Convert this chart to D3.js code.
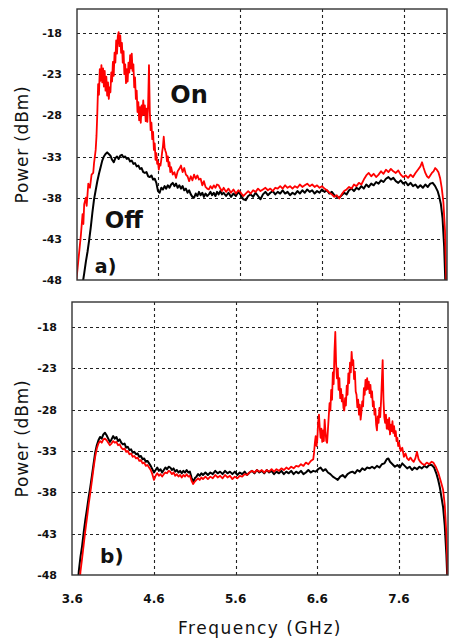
<!DOCTYPE html>
<html>
<head>
<meta charset="utf-8">
<script src="https://cdn.jsdelivr.net/npm/d3@7"></script>
<style>
  html, body { margin: 0; padding: 0; background: #fff; }
  svg { display: block; }
  text { font-family: "DejaVu Sans", Verdana, sans-serif; fill: #111; }
</style>
</head>
<body>
<div id="chart"></div>
<script>
// tick labels
const yTicks = [-18, -23, -28, -33, -38, -43, -48];
const xTicks = [3.6, 4.6, 5.6, 6.6, 7.6];
const xGrid = [4.6, 5.6, 6.6, 7.6];
const yGrid = [-18, -23, -28, -33, -38, -43];

// panel a) -- laser off (black)
const offA = [
  [3.64,-51],[3.68,-48.5],[3.70,-47.2],[3.72,-45.8],[3.74,-44.6],[3.76,-43.2],[3.78,-41.6],[3.80,-39.8],
  [3.82,-38.2],[3.84,-37.1],[3.86,-36.0],[3.88,-35.1],[3.90,-34.3],[3.92,-33.5],[3.94,-33.0],[3.96,-32.7],
  [3.98,-32.5],[4.00,-32.7],[4.02,-32.9],[4.04,-33.4],[4.06,-33.7],[4.08,-33.2],[4.10,-33.0],[4.12,-33.3],
  [4.14,-32.9],[4.16,-32.8],[4.18,-33.1],[4.20,-33.0],[4.22,-33.3],[4.24,-33.2],[4.26,-33.6],[4.28,-33.5],
  [4.30,-33.9],[4.32,-33.8],[4.34,-34.2],[4.36,-34.1],[4.38,-34.5],[4.40,-34.4],[4.42,-34.9],[4.44,-35.0],
  [4.46,-34.9],[4.48,-35.4],[4.50,-35.5],[4.52,-35.3],[4.54,-35.8],[4.56,-35.7],[4.58,-36.2],[4.60,-37.2],
  [4.62,-37.4],[4.64,-36.8],[4.66,-37.0],[4.68,-36.6],[4.70,-36.9],[4.72,-36.5],[4.74,-36.8],[4.76,-36.4],
  [4.78,-36.2],[4.80,-36.6],[4.82,-36.3],[4.84,-36.8],[4.86,-36.5],[4.88,-36.9],[4.90,-36.6],[4.92,-37.1],
  [4.94,-36.9],[4.96,-37.4],[4.98,-37.1],[5.00,-37.6],[5.02,-37.9],[5.04,-38.0],[5.06,-37.5],[5.08,-37.8],
  [5.10,-37.3],[5.12,-37.7],[5.14,-37.4],[5.16,-37.9],[5.18,-37.5],[5.20,-37.8],[5.22,-37.6],[5.24,-37.3],
  [5.26,-37.7],[5.28,-37.4],[5.30,-37.8],[5.32,-37.3],[5.34,-37.6],[5.36,-37.2],[5.38,-37.6],[5.40,-37.4],
  [5.43,-37.8],[5.46,-37.4],[5.49,-37.9],[5.52,-37.5],[5.55,-37.8],[5.58,-37.3],[5.61,-37.7],[5.64,-38.2],
  [5.67,-38.3],[5.70,-37.8],[5.73,-37.6],[5.76,-37.9],[5.79,-37.4],[5.82,-37.8],[5.85,-38.2],[5.88,-37.6],
  [5.91,-37.3],[5.94,-37.7],[5.97,-37.4],[6.00,-37.2],[6.03,-37.6],[6.06,-37.3],[6.09,-37.5],[6.12,-37.1],
  [6.15,-37.5],[6.18,-37.3],[6.21,-37.7],[6.24,-37.4],[6.27,-37.6],[6.30,-37.2],[6.33,-37.5],[6.36,-37.1],
  [6.39,-37.4],[6.42,-37.0],[6.45,-37.3],[6.48,-37.1],[6.51,-37.5],[6.54,-37.2],[6.57,-37.4],[6.60,-37.0],
  [6.63,-37.3],[6.66,-37.1],[6.69,-37.5],[6.72,-37.3],[6.75,-37.7],[6.78,-37.9],[6.81,-38.0],[6.84,-37.7],
  [6.87,-37.4],[6.90,-37.6],[6.93,-37.1],[6.96,-36.9],[6.99,-37.2],[7.02,-36.8],[7.05,-37.0],[7.08,-36.6],
  [7.11,-36.9],[7.14,-36.4],[7.17,-36.7],[7.20,-36.3],[7.23,-36.5],[7.26,-36.1],[7.29,-36.3],[7.32,-35.9],
  [7.35,-36.1],[7.38,-35.7],[7.41,-35.5],[7.44,-35.8],[7.47,-35.6],[7.50,-36.0],[7.53,-36.2],[7.56,-35.9],
  [7.59,-36.3],[7.62,-36.1],[7.65,-36.5],[7.68,-36.2],[7.71,-36.6],[7.74,-36.4],[7.77,-36.8],[7.80,-36.5],
  [7.83,-36.8],[7.86,-36.4],[7.89,-36.7],[7.92,-36.3],[7.95,-36.2],[7.98,-36.6],[8.01,-37.2],[8.03,-37.9],
  [8.05,-38.8],[8.07,-40.5],[8.09,-44.0],[8.10,-47.0],[8.11,-50.0]
];

// panel a) -- laser on (red)
const onA = [
  [3.60,-48.5],[3.62,-46.5],[3.64,-44.5],[3.66,-42.5],[3.68,-40.0],[3.69,-41.2],[3.70,-38.8],[3.72,-38.0],
  [3.73,-39.0],[3.75,-36.3],[3.77,-36.8],[3.79,-35.2],[3.81,-35.0],[3.82,-33.8],[3.84,-32.2],[3.85,-30.5],
  [3.86,-27.7],[3.87,-24.2],[3.88,-25.5],[3.89,-22.4],[3.90,-23.8],[3.91,-21.9],[3.92,-24.0],[3.93,-22.3],
  [3.94,-24.5],[3.95,-22.6],[3.96,-25.0],[3.97,-23.3],[3.98,-25.6],[3.99,-24.0],[4.00,-26.0],[4.01,-24.6],
  [4.02,-25.2],[4.03,-22.8],[4.04,-23.9],[4.05,-21.5],[4.06,-23.2],[4.07,-20.4],[4.08,-21.6],[4.09,-18.9],
  [4.10,-20.5],[4.11,-18.4],[4.12,-17.9],[4.13,-19.6],[4.14,-18.3],[4.15,-20.4],[4.16,-19.2],[4.17,-21.6],
  [4.18,-20.2],[4.19,-23.0],[4.20,-21.8],[4.21,-24.1],[4.22,-22.4],[4.23,-23.9],[4.24,-21.6],[4.25,-22.8],
  [4.26,-20.7],[4.27,-22.3],[4.28,-20.5],[4.29,-22.6],[4.30,-21.8],[4.31,-24.6],[4.32,-23.4],[4.33,-26.0],
  [4.34,-25.0],[4.35,-27.6],[4.36,-26.4],[4.37,-28.6],[4.38,-27.0],[4.39,-28.9],[4.40,-26.8],[4.41,-28.0],
  [4.42,-26.2],[4.43,-27.9],[4.44,-26.8],[4.45,-28.7],[4.46,-27.2],[4.47,-28.8],[4.48,-26.5],[4.49,-21.9],
  [4.50,-27.5],[4.51,-29.8],[4.52,-28.9],[4.53,-30.9],[4.54,-30.0],[4.55,-32.2],[4.56,-31.4],[4.57,-33.4],
  [4.58,-32.6],[4.59,-33.9],[4.60,-33.6],[4.61,-34.6],[4.62,-33.9],[4.63,-34.1],[4.64,-33.4],[4.65,-32.5],
  [4.66,-31.8],[4.67,-30.6],[4.68,-31.9],[4.69,-32.3],[4.70,-32.6],[4.71,-33.6],[4.72,-33.0],[4.73,-34.2],
  [4.74,-33.7],[4.75,-34.9],[4.76,-34.3],[4.78,-35.2],[4.80,-34.9],[4.82,-35.6],[4.84,-34.8],[4.86,-34.5],
  [4.88,-34.1],[4.90,-34.9],[4.92,-34.4],[4.94,-35.2],[4.96,-35.4],[4.98,-36.0],[5.00,-35.4],[5.02,-35.9],
  [5.04,-35.2],[5.06,-35.7],[5.08,-35.3],[5.10,-35.8],[5.12,-35.7],[5.14,-36.5],[5.16,-36.0],[5.18,-36.7],
  [5.20,-36.9],[5.22,-37.0],[5.24,-36.6],[5.26,-36.9],[5.28,-36.5],[5.30,-36.8],[5.32,-36.4],[5.34,-36.5],
  [5.36,-36.9],[5.38,-37.2],[5.40,-36.8],[5.43,-37.3],[5.46,-36.9],[5.49,-37.4],[5.52,-37.0],[5.55,-37.5],
  [5.58,-37.1],[5.61,-37.4],[5.64,-37.8],[5.67,-37.5],[5.70,-37.2],[5.73,-37.5],[5.76,-37.1],[5.79,-37.3],
  [5.82,-36.9],[5.85,-37.2],[5.88,-37.0],[5.91,-36.8],[5.94,-37.1],[5.97,-36.9],[6.00,-37.2],[6.03,-36.8],
  [6.06,-36.9],[6.09,-36.6],[6.12,-36.9],[6.15,-36.5],[6.18,-36.8],[6.21,-36.6],[6.24,-36.9],[6.27,-36.6],
  [6.30,-36.8],[6.33,-36.4],[6.36,-36.7],[6.39,-36.5],[6.42,-36.3],[6.45,-36.6],[6.48,-36.4],[6.51,-36.7],
  [6.54,-36.5],[6.57,-36.8],[6.60,-36.6],[6.63,-36.9],[6.66,-37.1],[6.69,-37.4],[6.72,-37.6],[6.75,-37.9],
  [6.78,-37.7],[6.81,-38.1],[6.84,-37.6],[6.87,-37.2],[6.90,-37.0],[6.93,-36.7],[6.96,-36.9],[6.99,-36.4],
  [7.02,-36.6],[7.05,-36.2],[7.08,-36.4],[7.11,-35.8],[7.14,-35.3],[7.17,-35.0],[7.20,-35.4],[7.23,-35.1],
  [7.26,-35.5],[7.29,-35.2],[7.32,-34.8],[7.35,-35.1],[7.38,-34.6],[7.41,-34.9],[7.44,-34.5],[7.47,-34.8],
  [7.50,-35.0],[7.53,-34.7],[7.56,-35.2],[7.59,-35.5],[7.62,-35.3],[7.65,-35.6],[7.68,-35.2],[7.71,-35.5],
  [7.74,-35.0],[7.77,-34.6],[7.80,-34.2],[7.82,-33.7],[7.84,-34.4],[7.86,-35.0],[7.88,-35.4],[7.90,-35.6],
  [7.92,-35.3],[7.94,-35.0],[7.96,-34.8],[7.98,-34.4],[8.00,-34.6],[8.02,-34.9],[8.04,-35.6],[8.06,-36.8],
  [8.08,-38.5],[8.10,-42.0],[8.11,-46.0],[8.12,-50.0]
];

// panel b) -- laser off (black)
const offB = [
  [3.66,-50],[3.68,-47.5],[3.70,-45.8],[3.72,-44.5],[3.74,-42.8],[3.76,-41.3],[3.78,-40.0],[3.80,-38.6],
  [3.82,-37.4],[3.84,-36.0],[3.86,-34.6],[3.88,-33.2],[3.90,-32.3],[3.92,-31.7],[3.94,-31.3],[3.96,-31.5],
  [3.98,-31.0],[4.00,-30.8],[4.02,-31.1],[4.04,-31.5],[4.06,-31.9],[4.08,-31.6],[4.10,-31.2],[4.12,-31.5],
  [4.14,-31.3],[4.16,-31.8],[4.18,-31.6],[4.20,-32.0],[4.22,-32.2],[4.24,-32.1],[4.26,-32.6],[4.28,-32.5],
  [4.30,-32.9],[4.32,-32.8],[4.34,-33.2],[4.36,-33.1],[4.38,-33.4],[4.40,-33.3],[4.42,-33.7],[4.44,-33.6],
  [4.46,-34.0],[4.48,-33.9],[4.50,-34.3],[4.52,-34.2],[4.54,-34.5],[4.56,-34.8],[4.58,-35.2],[4.60,-35.6],
  [4.62,-35.3],[4.64,-35.0],[4.66,-35.4],[4.68,-35.2],[4.70,-35.6],[4.72,-35.3],[4.74,-35.0],[4.76,-35.2],
  [4.78,-34.9],[4.80,-35.0],[4.82,-35.3],[4.84,-35.1],[4.86,-35.5],[4.88,-35.3],[4.90,-35.6],[4.92,-35.4],
  [4.94,-35.7],[4.96,-35.4],[4.98,-35.6],[5.00,-35.3],[5.02,-35.6],[5.04,-35.5],[5.06,-36.2],[5.08,-36.8],
  [5.10,-36.3],[5.12,-36.1],[5.14,-35.8],[5.16,-36.0],[5.18,-35.7],[5.20,-35.9],[5.23,-35.6],[5.26,-35.9],
  [5.29,-35.6],[5.32,-35.8],[5.35,-35.4],[5.38,-35.7],[5.41,-35.5],[5.44,-35.8],[5.47,-35.4],[5.50,-35.7],
  [5.53,-35.5],[5.56,-35.8],[5.59,-35.5],[5.62,-35.9],[5.65,-35.6],[5.68,-35.8],[5.71,-35.5],[5.74,-35.9],
  [5.77,-35.6],[5.80,-35.4],[5.83,-35.7],[5.86,-35.3],[5.89,-35.6],[5.92,-35.4],[5.95,-35.7],[5.98,-35.3],
  [6.01,-35.6],[6.04,-35.4],[6.07,-35.8],[6.10,-35.5],[6.13,-35.7],[6.16,-35.4],[6.19,-35.8],[6.22,-35.5],
  [6.25,-35.7],[6.28,-35.4],[6.31,-35.8],[6.34,-35.5],[6.37,-35.7],[6.40,-35.4],[6.43,-35.8],[6.46,-35.6],
  [6.49,-35.3],[6.52,-35.6],[6.55,-35.4],[6.58,-35.5],[6.61,-35.2],[6.64,-35.0],[6.67,-35.4],[6.70,-35.2],
  [6.73,-35.6],[6.76,-35.8],[6.79,-36.1],[6.82,-36.3],[6.85,-36.5],[6.88,-36.1],[6.91,-35.9],[6.94,-36.2],
  [6.97,-35.8],[7.00,-35.6],[7.03,-35.5],[7.06,-35.7],[7.09,-35.3],[7.12,-35.5],[7.15,-35.1],[7.18,-35.3],
  [7.21,-35.0],[7.24,-35.1],[7.27,-34.9],[7.30,-35.1],[7.33,-34.8],[7.36,-35.0],[7.39,-34.6],[7.42,-34.5],
  [7.45,-34.0],[7.47,-33.9],[7.49,-34.3],[7.52,-34.6],[7.55,-34.9],[7.58,-34.7],[7.61,-35.0],[7.64,-34.5],
  [7.67,-34.8],[7.70,-35.1],[7.73,-34.9],[7.76,-35.3],[7.79,-35.0],[7.82,-35.2],[7.85,-34.9],[7.88,-35.1],
  [7.91,-34.8],[7.94,-35.0],[7.97,-34.7],[8.00,-34.7],[8.03,-35.0],[8.06,-35.8],[8.08,-36.5],[8.10,-37.4],
  [8.12,-38.6],[8.14,-39.8],[8.16,-42.0],[8.18,-45.5],[8.19,-48.0],[8.20,-50.0]
];

// panel b) -- laser on (red)
const onB = [
  [3.68,-50],[3.70,-47.6],[3.72,-46.0],[3.74,-44.3],[3.76,-42.6],[3.78,-41.1],[3.80,-39.5],[3.82,-38.1],
  [3.84,-36.6],[3.86,-35.1],[3.88,-33.7],[3.90,-32.7],[3.92,-32.1],[3.94,-31.8],[3.96,-32.0],[3.98,-31.6],
  [4.00,-31.5],[4.02,-31.7],[4.04,-32.0],[4.06,-32.3],[4.08,-32.1],[4.10,-31.8],[4.12,-32.0],[4.14,-31.9],
  [4.16,-32.3],[4.18,-32.2],[4.20,-32.6],[4.22,-32.8],[4.24,-32.7],[4.26,-33.1],[4.28,-33.0],[4.30,-33.4],
  [4.32,-33.3],[4.34,-33.7],[4.36,-33.6],[4.38,-33.9],[4.40,-33.8],[4.42,-34.2],[4.44,-34.1],[4.46,-34.5],
  [4.48,-34.4],[4.50,-34.8],[4.52,-34.7],[4.54,-35.0],[4.56,-35.3],[4.58,-35.8],[4.60,-36.5],[4.62,-36.0],
  [4.64,-35.7],[4.66,-36.0],[4.68,-35.8],[4.70,-36.1],[4.72,-35.8],[4.74,-35.6],[4.76,-35.7],[4.78,-35.4],
  [4.80,-35.5],[4.82,-35.8],[4.84,-35.6],[4.86,-36.0],[4.88,-35.8],[4.90,-36.1],[4.92,-35.9],[4.94,-36.2],
  [4.96,-35.9],[4.98,-36.1],[5.00,-35.8],[5.02,-36.1],[5.04,-36.0],[5.06,-36.6],[5.08,-37.0],[5.10,-36.7],
  [5.12,-36.5],[5.14,-36.3],[5.16,-36.5],[5.18,-36.2],[5.20,-36.4],[5.23,-36.1],[5.26,-36.4],[5.29,-36.1],
  [5.32,-36.3],[5.35,-35.9],[5.38,-36.2],[5.41,-36.0],[5.44,-36.3],[5.47,-35.9],[5.50,-36.2],[5.53,-36.0],
  [5.56,-36.4],[5.59,-36.1],[5.62,-36.3],[5.65,-36.0],[5.68,-36.1],[5.71,-35.8],[5.74,-35.9],[5.77,-35.6],
  [5.80,-35.4],[5.83,-35.6],[5.86,-35.3],[5.89,-35.5],[5.92,-35.3],[5.95,-35.6],[5.98,-35.3],[6.01,-35.5],
  [6.04,-35.2],[6.07,-35.5],[6.10,-35.2],[6.13,-35.4],[6.16,-35.1],[6.19,-35.3],[6.22,-35.0],[6.25,-35.2],
  [6.28,-34.9],[6.31,-35.1],[6.34,-34.8],[6.37,-34.9],[6.40,-34.6],[6.43,-34.8],[6.46,-34.4],[6.49,-34.6],
  [6.52,-34.2],[6.55,-34.0],[6.56,-33.2],[6.57,-32.0],[6.58,-31.2],[6.59,-32.4],[6.60,-31.6],[6.61,-29.5],
  [6.62,-28.6],[6.63,-30.2],[6.64,-31.4],[6.65,-30.3],[6.66,-31.9],[6.67,-30.5],[6.68,-31.8],[6.69,-29.2],
  [6.70,-30.7],[6.71,-31.8],[6.72,-32.0],[6.73,-30.4],[6.74,-28.8],[6.75,-27.2],[6.76,-28.1],[6.77,-25.6],
  [6.78,-26.8],[6.79,-23.5],[6.80,-24.9],[6.81,-21.0],[6.82,-18.6],[6.83,-22.5],[6.84,-24.2],[6.85,-23.0],
  [6.86,-25.6],[6.87,-24.2],[6.88,-26.6],[6.89,-25.5],[6.90,-27.0],[6.91,-26.2],[6.92,-27.8],[6.93,-28.1],
  [6.94,-26.6],[6.95,-27.5],[6.96,-25.1],[6.97,-26.2],[6.98,-23.6],[6.99,-24.8],[7.00,-22.3],[7.01,-23.5],
  [7.02,-21.0],[7.03,-22.6],[7.04,-22.0],[7.05,-24.3],[7.06,-23.4],[7.07,-25.8],[7.08,-26.2],[7.09,-27.7],
  [7.10,-26.8],[7.11,-28.6],[7.12,-27.4],[7.13,-29.2],[7.14,-28.3],[7.15,-27.0],[7.16,-27.6],[7.17,-25.4],
  [7.18,-26.2],[7.19,-24.4],[7.20,-25.6],[7.21,-24.2],[7.22,-25.5],[7.23,-24.6],[7.24,-26.0],[7.25,-25.0],
  [7.26,-26.5],[7.27,-25.8],[7.28,-27.6],[7.29,-27.0],[7.30,-28.6],[7.31,-27.9],[7.32,-29.8],[7.33,-30.5],
  [7.34,-28.8],[7.35,-29.6],[7.36,-27.8],[7.37,-28.9],[7.38,-27.0],[7.39,-24.6],[7.40,-22.0],[7.41,-26.8],
  [7.42,-28.9],[7.43,-29.6],[7.44,-28.6],[7.45,-30.3],[7.46,-29.2],[7.47,-30.4],[7.48,-29.0],[7.49,-31.0],
  [7.50,-29.8],[7.51,-30.6],[7.52,-29.4],[7.53,-30.8],[7.54,-30.0],[7.55,-31.2],[7.56,-30.6],[7.57,-31.8],
  [7.58,-31.4],[7.59,-32.4],[7.60,-32.0],[7.62,-33.0],[7.64,-32.6],[7.66,-33.7],[7.68,-33.3],[7.70,-33.9],
  [7.72,-34.1],[7.74,-33.8],[7.76,-34.1],[7.78,-34.3],[7.80,-33.9],[7.82,-33.1],[7.84,-34.0],[7.86,-34.3],
  [7.88,-34.5],[7.91,-34.7],[7.94,-34.4],[7.97,-34.6],[8.00,-34.3],[8.02,-34.4],[8.05,-34.9],[8.08,-35.6],
  [8.11,-36.6],[8.14,-37.7],[8.16,-39.5],[8.18,-43.0],[8.19,-46.0],[8.20,-50.0]
];

// annotations: [text, freq, dBm (baseline), font size]
const notesA = [["On", 4.75, -26.5, 24], ["Off", 3.95, -41.7, 23], ["a)", 3.83, -47.2, 19]];
const notesB = [["b)", 3.94, -46.6, 20]];

const width = 449, height = 642;

const svg = d3.select("#chart").append("svg")
  .attr("width", width)
  .attr("height", height);

const panels = [
  { id: "a", left: 77, right: 447, top: 9, bottom: 280,
    xRange: [76, 404], yRange: [280, 33], off: offA, on: onA, notes: notesA, xLabels: false },
  { id: "b", left: 72, right: 448, top: 302, bottom: 575,
    xRange: [72.3, 399], yRange: [575, 327], off: offB, on: onB, notes: notesB, xLabels: true }
];

panels.forEach((p) => {
  const x = d3.scaleLinear().domain([3.6, 7.6]).range(p.xRange);
  const y = d3.scaleLinear().domain([-48, -18]).range(p.yRange);

  const g = svg.append("g");

  g.append("clipPath")
    .attr("id", "clip-" + p.id)
    .append("rect")
    .attr("x", p.left)
    .attr("y", p.top)
    .attr("width", p.right - p.left)
    .attr("height", p.bottom - p.top);

  // dashed grid
  g.selectAll("line.hgrid")
    .data(yGrid)
    .enter()
    .append("line")
    .attr("class", "hgrid")
    .attr("x1", p.left)
    .attr("x2", p.right)
    .attr("y1", (d) => Math.round(y(d)) + 0.5)
    .attr("y2", (d) => Math.round(y(d)) + 0.5)
    .attr("stroke", "#222")
    .attr("stroke-width", 1.1)
    .attr("stroke-dasharray", "3,3");

  g.selectAll("line.vgrid")
    .data(xGrid)
    .enter()
    .append("line")
    .attr("class", "vgrid")
    .attr("x1", (d) => Math.round(x(d)) + 0.5)
    .attr("x2", (d) => Math.round(x(d)) + 0.5)
    .attr("y1", p.top)
    .attr("y2", p.bottom)
    .attr("stroke", "#222")
    .attr("stroke-width", 1.1)
    .attr("stroke-dasharray", "3,3");

  const line = d3.line()
    .x((d) => x(d[0]))
    .y((d) => y(d[1]));

  const curves = g.append("g").attr("clip-path", `url(#clip-${p.id})`);

  curves.append("path")
    .datum(p.off)
    .attr("d", line)
    .attr("fill", "none")
    .attr("stroke", "#000")
    .attr("stroke-width", 2)
    .attr("stroke-linejoin", "round");

  curves.append("path")
    .datum(p.on)
    .attr("d", line)
    .attr("fill", "none")
    .attr("stroke", "#ff0000")
    .attr("stroke-width", 1.8)
    .attr("stroke-linejoin", "round");

  // frame
  g.append("rect")
    .attr("x", p.left)
    .attr("y", p.top)
    .attr("width", p.right - p.left)
    .attr("height", p.bottom - p.top)
    .attr("fill", "none")
    .attr("stroke", "#333")
    .attr("stroke-width", 1.4);

  // y tick labels
  g.selectAll("text.ytick")
    .data(yTicks)
    .enter()
    .append("text")
    .attr("class", "ytick")
    .attr("x", p.left - 15)
    .attr("y", (d) => y(d) + 4)
    .attr("text-anchor", "end")
    .style("font-size", "11px")
    .style("font-weight", "bold")
    .text((d) => d);

  if (p.xLabels) {
    g.selectAll("text.xtick")
      .data(xTicks)
      .enter()
      .append("text")
      .attr("class", "xtick")
      .attr("x", (d) => x(d))
      .attr("y", p.bottom + 28)
      .attr("text-anchor", "middle")
      .style("font-size", "12px")
      .style("font-weight", "bold")
      .text((d) => d.toFixed(1));
  }

  // y axis title
  g.append("text")
    .attr("transform", `translate(28, ${(p.top + p.bottom) / 2}) rotate(-90)`)
    .attr("text-anchor", "middle")
    .style("font-size", "17px")
    .style("letter-spacing", "0.8px")
    .text("Power (dBm)");

  g.selectAll("text.note")
    .data(p.notes)
    .enter()
    .append("text")
    .attr("class", "note")
    .attr("x", (d) => x(d[1]))
    .attr("y", (d) => y(d[2]))
    .style("font-size", (d) => d[3] + "px")
    .style("font-weight", "bold")
    .text((d) => d[0]);
});

svg.append("text")
  .attr("x", 260)
  .attr("y", 634)
  .attr("text-anchor", "middle")
  .style("font-size", "17px")
  .style("letter-spacing", "1.5px")
  .text("Frequency (GHz)");
</script>
</body>
</html>
